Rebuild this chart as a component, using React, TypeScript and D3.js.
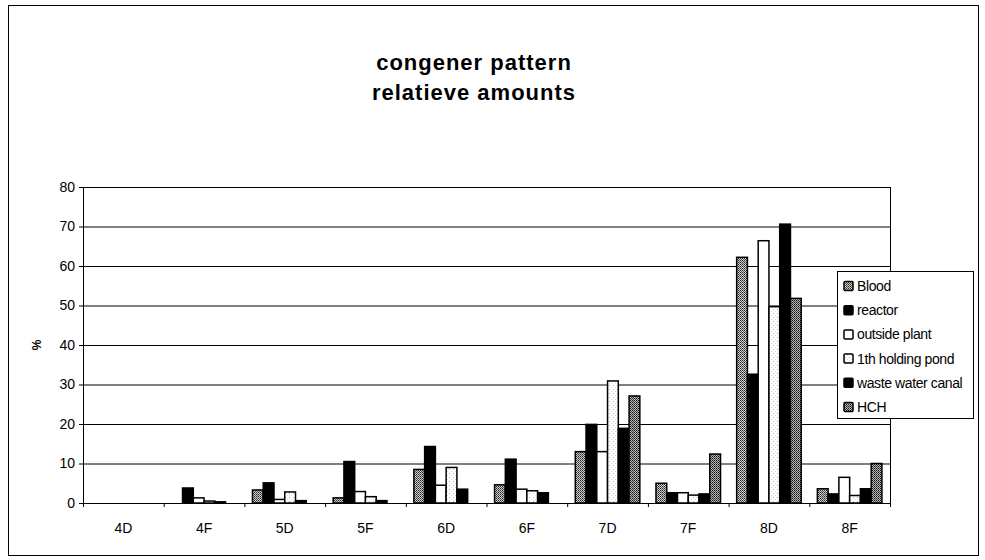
import React from "react";
import * as d3 from "d3";

const categories = ["4D", "4F", "5D", "5F", "6D", "6F", "7D", "7F", "8D", "8F"];
const seriesNames = ["Blood", "reactor", "outside plant", "1th holding pond", "waste water canal", "HCH"];

const blood = [0, 0, 3.3, 1.3, 8.5, 4.6, 13.0, 5.0, 62.2, 3.6];
const reactor = [0, 3.8, 5.1, 10.5, 14.3, 11.1, 19.9, 2.6, 32.6, 2.3];
const outsidePlant = [0, 1.3, 0.9, 2.9, 4.5, 3.5, 13.0, 2.6, 66.4, 6.5];
const holdingPond = [0, 0.5, 2.8, 1.6, 9.0, 3.1, 30.9, 2.0, 49.7, 1.9];
const wasteWater = [0, 0.3, 0.6, 0.6, 3.5, 2.6, 18.9, 2.3, 70.6, 3.6];
const hch = [0, 0, 0, 0, 0, 0, 27.1, 12.4, 51.8, 10.0];

const seriesValues = [blood, reactor, outsidePlant, holdingPond, wasteWater, hch];
const yTicks = [0, 10, 20, 30, 40, 50, 60, 70, 80];

// fills per series (patterns defined in <defs>)
const fills = ["url(#pBlood)", "#000", "#fff", "url(#pPond)", "#000", "url(#pHch)"];

export default function App() {
  const width = 985;
  const height = 560;
  const plot = { left: 83, right: 890, top: 187, bottom: 503 };
  const font = "'Liberation Sans', Arial, sans-serif";

  const x = d3.scaleBand<string>().domain(categories).range([plot.left, plot.right]).padding(0);
  const xInner = d3
    .scaleBand<string>()
    .domain(seriesNames)
    .range([0, x.bandwidth()])
    .paddingInner(0)
    .paddingOuter(0.75);
  const y = d3.scaleLinear().domain([0, 80]).range([plot.bottom, plot.top]);

  const legend = { x: 837, y: 271, w: 136, h: 147 };

  return (
    <svg width={width} height={height} style={{ display: "block", background: "#fff" }}>
      <style>{`body{margin:0}`}</style>
      <defs>
        <pattern id="pBlood" width="2" height="2" patternUnits="userSpaceOnUse">
          <rect width="2" height="2" fill="#d0d0d0" />
          <rect x="0" y="0" width="1" height="1" fill="#222" />
          <rect x="1" y="1" width="1" height="1" fill="#555" />
        </pattern>
        <pattern id="pHch" width="2" height="2" patternUnits="userSpaceOnUse">
          <rect width="2" height="2" fill="#b8b8b8" />
          <rect x="0" y="0" width="1" height="1" fill="#111" />
          <rect x="1" y="1" width="1" height="1" fill="#444" />
        </pattern>
        <pattern id="pPond" width="4" height="4" patternUnits="userSpaceOnUse">
          <rect width="4" height="4" fill="#fff" />
          <rect x="1" y="1" width="1" height="1" fill="#bbb" />
          <rect x="3" y="3" width="1" height="1" fill="#ddd" />
        </pattern>
      </defs>

      {/* outer frame */}
      <rect x={8.5} y={5.5} width={970} height={550} fill="none" stroke="#000" strokeWidth={1} />

      {/* title */}
      <text x={474} y={70} textAnchor="middle" fontFamily={font} fontWeight="bold" fontSize={22} letterSpacing={1}>
        congener pattern
      </text>
      <text x={474} y={100} textAnchor="middle" fontFamily={font} fontWeight="bold" fontSize={22} letterSpacing={1}>
        relatieve amounts
      </text>

      {/* gridlines */}
      {yTicks.map((t) => (
        <line key={t} x1={plot.left} x2={plot.right} y1={y(t) + 0.5} y2={y(t) + 0.5} stroke="#000" strokeWidth={1} />
      ))}
      <line x1={plot.right + 0.5} x2={plot.right + 0.5} y1={plot.top} y2={plot.bottom} stroke="#000" />

      {/* bars */}
      {seriesValues.map((vals, si) => (
        <g key={seriesNames[si]}>
          {categories.map((c, ci) =>
            vals[ci] > 0 ? (
              <rect
                key={c}
                x={(x(c) ?? 0) + (xInner(seriesNames[si]) ?? 0)}
                y={y(vals[ci])}
                width={xInner.bandwidth()}
                height={y(0) - y(vals[ci])}
                fill={fills[si]}
                stroke="#000"
                strokeWidth={1.5}
              />
            ) : null
          )}
        </g>
      ))}

      {/* y axis */}
      <line x1={plot.left + 0.5} x2={plot.left + 0.5} y1={plot.top} y2={plot.bottom + 1} stroke="#000" />
      {yTicks.map((t) => (
        <g key={t}>
          <line x1={plot.left - 4} x2={plot.left} y1={y(t) + 0.5} y2={y(t) + 0.5} stroke="#000" />
          <text x={75} y={y(t)} dy="0.35em" textAnchor="end" fontFamily={font} fontSize={14}>
            {t}
          </text>
        </g>
      ))}
      <text
        transform={`translate(37,${(plot.top + plot.bottom) / 2}) rotate(-90)`}
        textAnchor="middle"
        dy="0.35em"
        fontFamily={font}
        fontWeight="bold"
        fontSize={12}
      >
        %
      </text>

      {/* x axis */}
      <line x1={plot.left} x2={plot.right} y1={plot.bottom + 0.5} y2={plot.bottom + 0.5} stroke="#000" />
      {[...categories.map((c) => x(c) ?? 0), plot.right].map((px, i) => (
        <line key={i} x1={px + 0.5} x2={px + 0.5} y1={plot.bottom} y2={plot.bottom + 4} stroke="#000" />
      ))}
      {categories.map((c) => (
        <text key={c} x={(x(c) ?? 0) + x.bandwidth() / 2} y={533} textAnchor="middle" fontFamily={font} fontSize={14}>
          {c}
        </text>
      ))}

      {/* legend */}
      <rect x={legend.x + 0.5} y={legend.y + 0.5} width={legend.w} height={legend.h} fill="#fff" stroke="#000" />
      {seriesNames.map((name, i) => {
        const cy = 286 + i * 24.2;
        return (
          <g key={name}>
            <rect x={844} y={cy - 4.5} width={9} height={9} fill={fills[i]} stroke="#000" strokeWidth={1.5} rx={1} />
            <text x={857} y={cy} dy="0.35em" fontFamily={font} fontSize={14} letterSpacing={-0.4}>
              {name}
            </text>
          </g>
        );
      })}
    </svg>
  );
}
